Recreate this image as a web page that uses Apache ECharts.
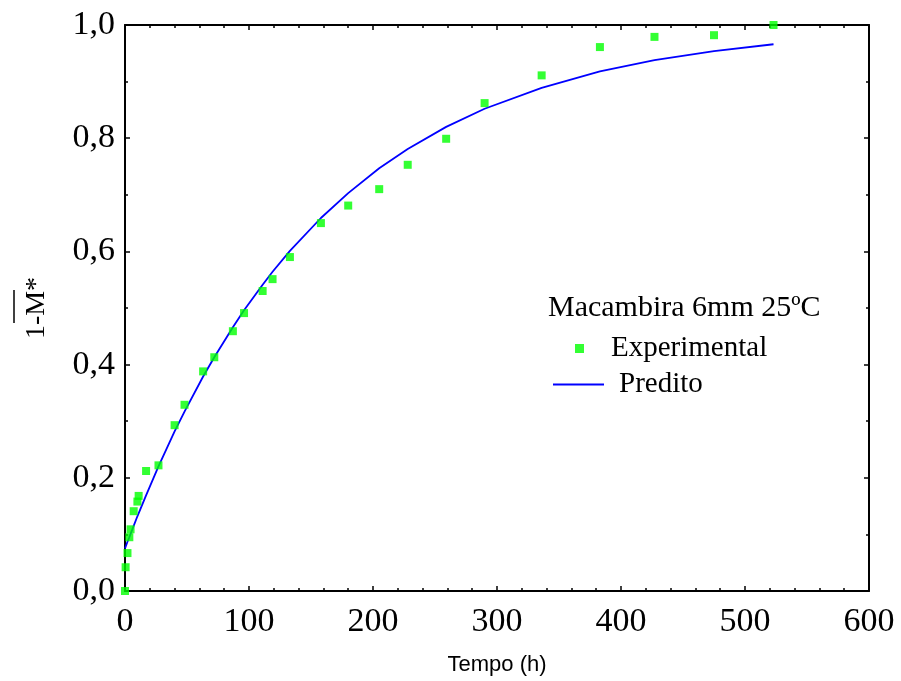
<!DOCTYPE html>
<html>
<head>
<meta charset="utf-8">
<script src="https://cdn.jsdelivr.net/npm/echarts@6/dist/echarts.min.js"></script>
<style>html,body{margin:0;padding:0;background:#fff;}#c{width:901px;height:681px;}</style>
</head>
<body>
<div id="c"></div>
<script>
// Experimental data (time in h, 1-M*)
var expTime = [0, 0.5, 2, 3.5, 4.5, 7, 10, 11, 17, 27, 40, 48, 63, 72, 87, 96, 111, 119, 133, 158, 180, 205, 228, 259, 290, 336, 383, 427, 475, 523];
var expValue = [0.0, 0.042, 0.067, 0.095, 0.109, 0.141, 0.158, 0.168, 0.212, 0.222, 0.293, 0.329, 0.388, 0.413, 0.459, 0.491, 0.530, 0.551, 0.590, 0.650, 0.681, 0.710, 0.753, 0.799, 0.862, 0.911, 0.961, 0.979, 0.982, 1.0];
// Predicted curve
var predTime = [0, 0.5, 2, 3.5, 4.5, 7, 10, 11, 17, 27, 40, 48, 63, 72, 87, 96, 111, 119, 133, 158, 180, 205, 228, 259, 290, 336, 383, 427, 475, 523];
var predValue = [0.075, 0.078, 0.087, 0.095, 0.101, 0.115, 0.132, 0.137, 0.169, 0.220, 0.282, 0.317, 0.379, 0.413, 0.466, 0.496, 0.541, 0.564, 0.601, 0.659, 0.703, 0.747, 0.781, 0.820, 0.852, 0.889, 0.918, 0.938, 0.954, 0.966];
var xTicks = [0, 100, 200, 300, 400, 500, 600];
var yTicks = [0, 0.2, 0.4, 0.6, 0.8, 1.0];

var expData = expTime.map(function (t, i) { return [t, expValue[i]]; });
var predData = predTime.map(function (t, i) { return [t, predValue[i]]; });

var serif = 'Liberation Serif, Times New Roman, serif';
var axisLineStyle = { color: '#000', width: 2 };

function frameAxis(pos, splitNum) {
  return {
    show: true,
    position: pos,
    axisLine: { show: true, onZero: false, lineStyle: axisLineStyle },
    axisTick: { show: true, inside: true, length: 5, lineStyle: { color: '#000', width: 1.5 } },
    minorTick: { show: true, splitNumber: splitNum, length: 3, lineStyle: { color: '#000', width: 1.5 } },
    splitLine: { show: false }
  };
}

var xBottom = frameAxis('bottom', 5);
Object.assign(xBottom, {
  type: 'value', min: xTicks[0], max: xTicks[xTicks.length - 1], interval: 100,
  axisLabel: { fontFamily: serif, fontSize: 34, color: '#000', margin: 14 },
  name: 'Tempo (h)', nameLocation: 'middle', nameGap: 63,
  nameTextStyle: { fontFamily: 'Liberation Sans Narrow, Liberation Sans, Arial, sans-serif', fontSize: 22, color: '#000' }
});
var xTop = frameAxis('top', 5);
Object.assign(xTop, {
  type: 'value', min: xTicks[0], max: xTicks[xTicks.length - 1], interval: 100,
  axisLabel: { show: false }
});
var yLeft = frameAxis('left', 2);
Object.assign(yLeft, {
  type: 'value', min: yTicks[0], max: yTicks[yTicks.length - 1], interval: 0.2,
  axisLabel: {
    fontFamily: serif, fontSize: 34, color: '#000', margin: 10,
    formatter: function (v) { return v.toFixed(1).replace('.', ','); }
  },
  name: '1-M*', nameLocation: 'middle', nameRotate: 90, nameGap: 74,
  nameTextStyle: { fontFamily: serif, fontSize: 28, color: '#000' }
});
var yRight = frameAxis('right', 2);
Object.assign(yRight, {
  type: 'value', min: yTicks[0], max: yTicks[yTicks.length - 1], interval: 0.2,
  axisLabel: { show: false }
});

var chart = echarts.init(document.getElementById('c'));
chart.setOption({
  animation: false,
  backgroundColor: '#fff',
  title: {
    text: 'Macambira 6mm 25ºC',
    left: 543, top: 288,
    textStyle: { fontFamily: serif, fontSize: 30, fontWeight: 'normal', color: '#000' }
  },
  legend: [
    {
      data: ['Experimental'],
      left: 570, top: 329,
      icon: 'rect', itemWidth: 9, itemHeight: 9,
      textStyle: { fontFamily: serif, fontSize: 29, color: '#000', padding: [0, 0, 0, 22] }
    },
    {
      data: ['Predito'],
      left: 548, top: 365,
      icon: 'rect', itemWidth: 51, itemHeight: 2,
      textStyle: { fontFamily: serif, fontSize: 29, color: '#000', padding: [0, 0, 0, 10] }
    }
  ],
  grid: { left: 125, right: 32, top: 25, bottom: 90 },
  xAxis: [xBottom, xTop],
  yAxis: [yLeft, yRight],
  graphic: [
    { type: 'line', shape: { x1: 14, y1: 290, x2: 14, y2: 323 }, style: { stroke: '#000', lineWidth: 1.5 } }
  ],
  series: [
    {
      name: 'Predito', type: 'line', data: predData,
      symbol: 'none', showSymbol: false,
      lineStyle: { color: '#0000ff', width: 1.8 },
      itemStyle: { color: '#0000ff' },
      z: 2
    },
    {
      name: 'Experimental', type: 'scatter', data: expData,
      symbol: 'rect', symbolSize: 8,
      itemStyle: { color: '#00ff00' },
      z: 3
    }
  ]
});
</script>
</body>
</html>
